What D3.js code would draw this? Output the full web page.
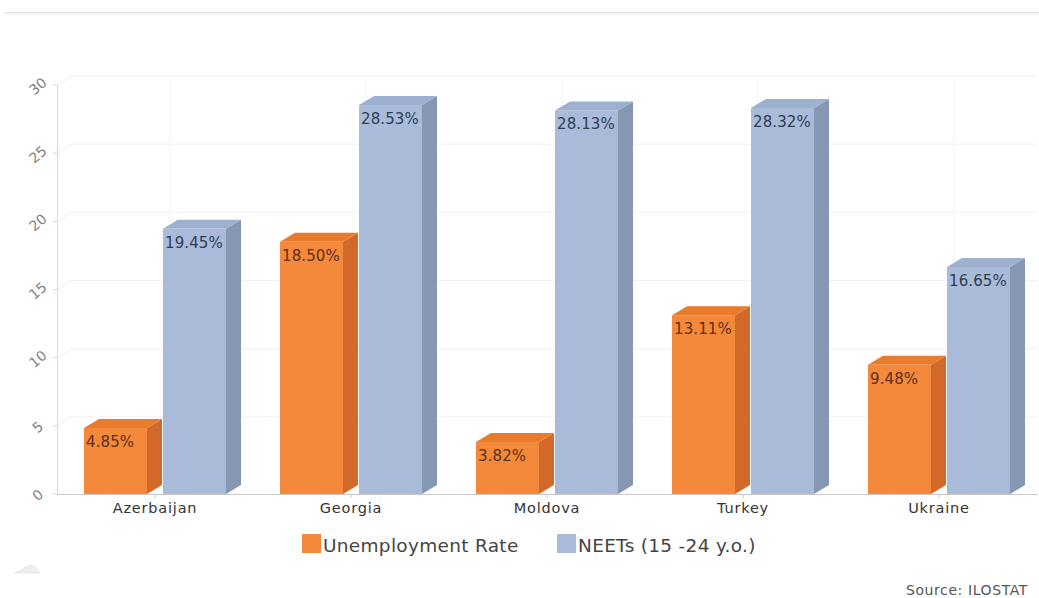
<!DOCTYPE html>
<html><head><meta charset="utf-8">
<script src="https://cdn.jsdelivr.net/npm/d3@7"></script>
<style>body{margin:0;background:#fff;}svg{display:block;font-family:"DejaVu Sans",sans-serif;}</style>
</head><body><svg id="c" width="1039" height="598"></svg>
<script>
const categories = ["Azerbaijan","Georgia","Moldova","Turkey","Ukraine"];
const unemployment = [4.85,18.50,3.82,13.11,9.48];
const neets = [19.45,28.53,28.13,28.32,16.65];
const seriesNames = ["Unemployment Rate","NEETs (15 -24 y.o.)"];
const yTicks = [0,5,10,15,20,25,30];

(function(){
const svg = d3.select("#c");
const W=1039;
const pLeft=57, pRight=1037, pBase=494, pTop=85;
const dx=15, dy=9;
const x = d3.scaleBand().domain(categories).range([pLeft,pRight]);
const y = d3.scaleLinear().domain([0,30]).range([pBase,pTop]);
const barW=63, gap=16;

svg.append("rect").attr("x",4).attr("y",12).attr("width",W-4).attr("height",3).attr("fill","#f6f6f6");
svg.append("line").attr("x1",4).attr("x2",W).attr("y1",12.5).attr("y2",12.5).attr("stroke","#e4e4e4");

const g=svg.append("g");
yTicks.forEach(t=>{
  if(t===0) return;
  g.append("line").attr("x1",pLeft+dx).attr("x2",pRight).attr("y1",y(t)-dy).attr("y2",y(t)-dy).attr("stroke","#f0f0f0");
  g.append("line").attr("x1",pLeft).attr("x2",pLeft+dx).attr("y1",y(t)).attr("y2",y(t)-dy).attr("stroke","#f0f0f0");
});
categories.forEach(c=>{
  g.append("line").attr("x1",x(c)+x.bandwidth()/2+dx).attr("x2",x(c)+x.bandwidth()/2+dx)
   .attr("y1",pTop-dy).attr("y2",pBase-dy).attr("stroke","#f3f3f3");
});

svg.append("line").attr("x1",pLeft+0.5).attr("x2",pLeft+0.5).attr("y1",pTop).attr("y2",pBase).attr("stroke","#d8d8d8");
yTicks.forEach(t=>{
  svg.append("line").attr("x1",pLeft-4).attr("x2",pLeft).attr("y1",y(t)).attr("y2",y(t)).attr("stroke","#d8d8d8");
  svg.append("text").attr("transform",`translate(${pLeft-16},${y(t)+5}) rotate(-40)`)
    .attr("text-anchor","middle").attr("font-size",14).attr("fill","#808080").text(t);
});
svg.append("line").attr("x1",pLeft).attr("x2",pRight).attr("y1",pBase+0.5).attr("y2",pBase+0.5).attr("stroke","#c8c8c8");
categories.forEach(c=>{
  const cx=x(c)+x.bandwidth()/2;
  svg.append("line").attr("x1",cx).attr("x2",cx).attr("y1",pBase).attr("y2",pBase+4).attr("stroke","#c8c8c8");
  svg.append("text").attr("x",cx).attr("y",pBase+19).attr("text-anchor","middle").attr("font-size",14.5)
    .attr("letter-spacing",0.8).attr("fill","#333").text(c);
});

const styles=[
  {front:"#F4883B",top:"#E97B2E",side:"#D2692A",txt:"#5a3018"},
  {front:"#A9BBD8",top:"#9DB0CF",side:"#8697B3",txt:"#2f3d52"}
];
function bar(x0,v,s){
  const x1=x0+barW, yt=y(v), yb=y(0);
  svg.append("polygon").attr("points",[[x1,yt],[x1+dx,yt-dy],[x1+dx,yb-dy],[x1,yb]].join(" ")).attr("fill",s.side);
  svg.append("polygon").attr("points",[[x0,yt],[x0+dx,yt-dy],[x1+dx,yt-dy],[x1,yt]].join(" ")).attr("fill",s.top);
  svg.append("rect").attr("x",x0).attr("y",yt).attr("width",barW).attr("height",yb-yt).attr("fill",s.front);
  svg.append("text").attr("x",x0+2).attr("y",yt+19).attr("font-size",15).attr("letter-spacing",0.1)
    .attr("fill",s.txt).text(v.toFixed(2)+"%");
}
categories.forEach((c,i)=>{
  const cx=x(c)+x.bandwidth()/2;
  bar(cx-gap/2-barW, unemployment[i], styles[0]);
  bar(cx+gap/2, neets[i], styles[1]);
});

const lg=[{x:302,c:styles[0].front,t:seriesNames[0]},{x:557,c:styles[1].front,t:seriesNames[1]}];
lg.forEach(d=>{
  svg.append("rect").attr("x",d.x).attr("y",534).attr("width",19).attr("height",19).attr("fill",d.c);
  svg.append("text").attr("x",d.x+21).attr("y",552).attr("font-size",18.5).attr("letter-spacing",0.3)
    .attr("fill","#444").text(d.t);
});
svg.append("path").attr("d","M14,573 L22,570 Q30,562 36,568 L40,573 Z").attr("fill","#eeeeee").attr("stroke","#e6e6e6").attr("stroke-width",1);
svg.append("text").attr("x",1028).attr("y",595).attr("text-anchor","end").attr("font-size",14)
  .attr("letter-spacing",0.6).attr("fill","#555").text("Source: ILOSTAT");
})();
</script></body></html>
